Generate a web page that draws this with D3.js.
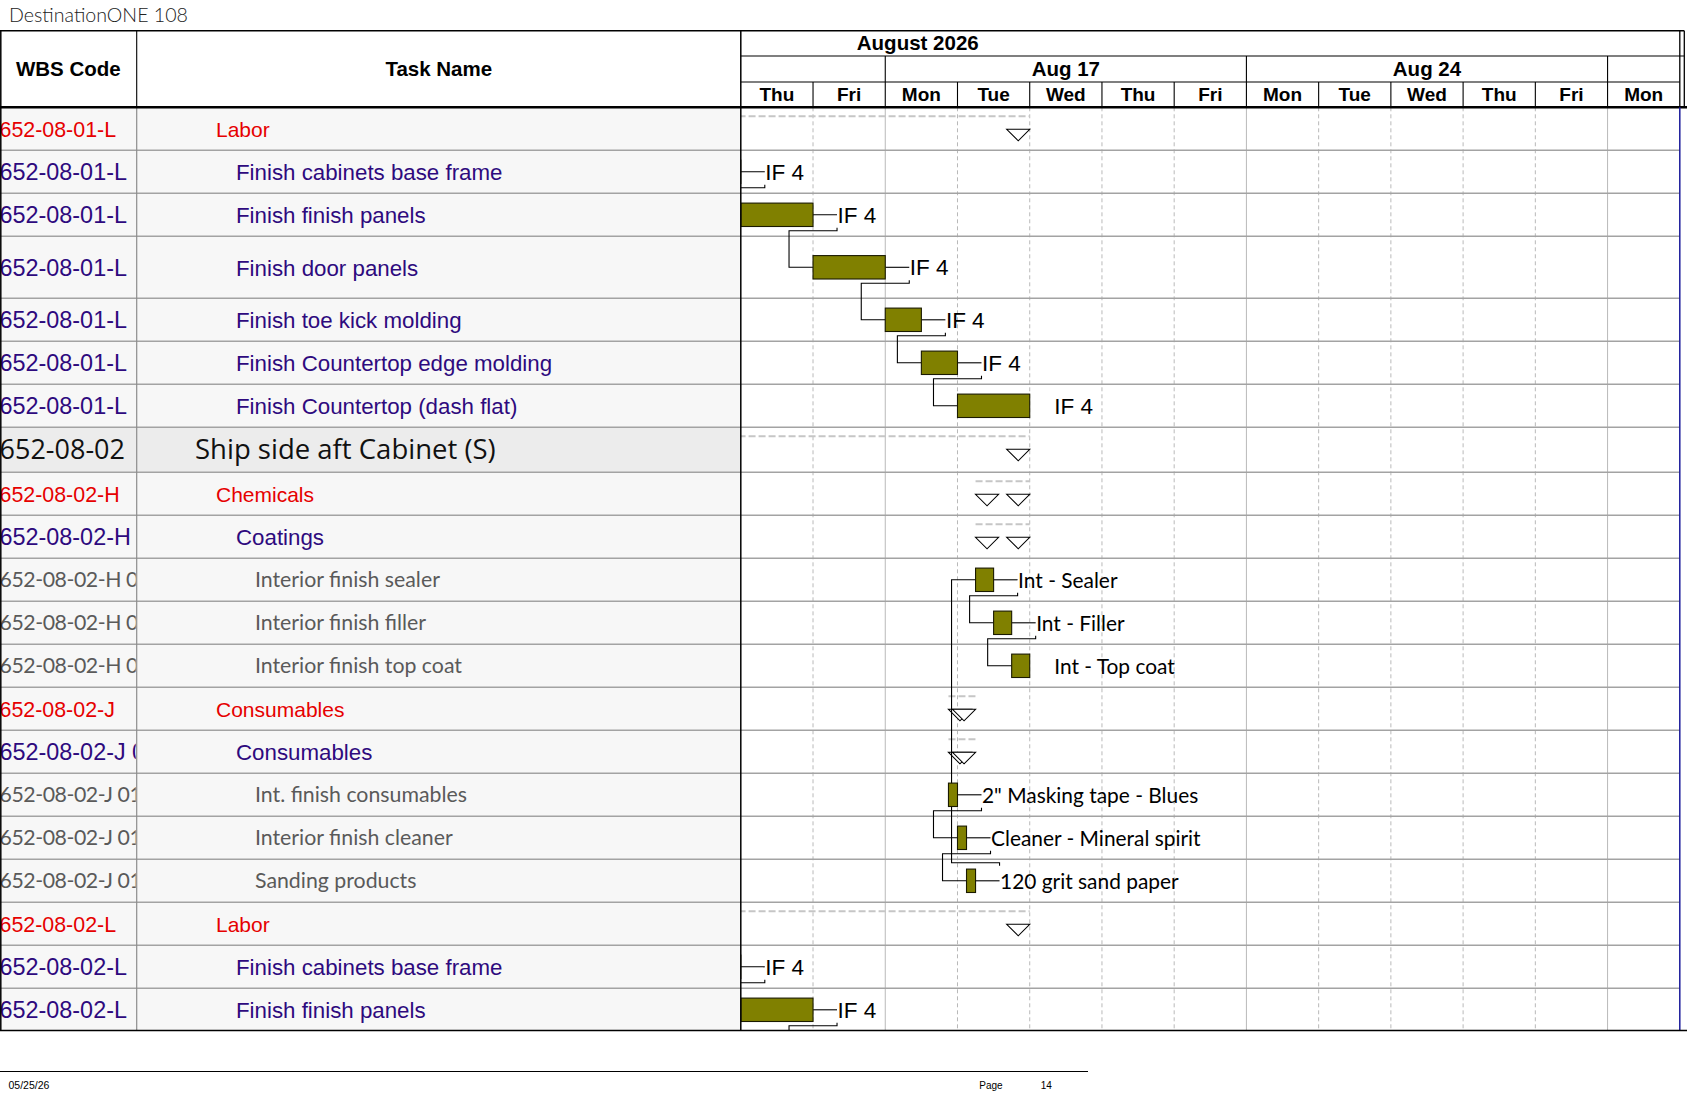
<!DOCTYPE html>
<html><head><meta charset="utf-8">
<script src="https://cdn.jsdelivr.net/npm/d3@7"></script>
<style>body{margin:0;background:#fff;overflow:hidden}</style>
</head><body><svg id="c" width="1687" height="1097"></svg>
<script>
// ---------------- DATA ----------------
const chartTitle = "DestinationONE 108";
const columnHeaders = ["WBS Code", "Task Name"];
const monthLabel = "August 2026";
const dayLabels = ["Thu","Fri","Mon","Tue","Wed","Thu","Fri","Mon","Tue","Wed","Thu","Fri","Mon"];
const weekStartDays = [0, 2, 7, 12];
const weekLabels = ["", "Aug 17", "Aug 24", ""];

const wbsCodes = [
  "652-08-01-L","652-08-01-L","652-08-01-L","652-08-01-L","652-08-01-L","652-08-01-L","652-08-01-L",
  "652-08-02",
  "652-08-02-H","652-08-02-H","652-08-02-H 01","652-08-02-H 02","652-08-02-H 03",
  "652-08-02-J","652-08-02-J 01","652-08-02-J 01 01","652-08-02-J 01 02","652-08-02-J 01 03",
  "652-08-02-L","652-08-02-L","652-08-02-L","652-08-02-L"
];
const taskNames = [
  "Labor","Finish cabinets base frame","Finish finish panels","Finish door panels","Finish toe kick molding",
  "Finish Countertop edge molding","Finish Countertop (dash flat)",
  "Ship side aft Cabinet (S)",
  "Chemicals","Coatings","Interior finish sealer","Interior finish filler","Interior finish top coat",
  "Consumables","Consumables","Int. finish consumables","Interior finish cleaner","Sanding products",
  "Labor","Finish cabinets base frame","Finish finish panels","Finish door panels"
];
const outlineLevels = [3,4,4,4,4,4,4, 2, 3,4,5,5,5, 3,4,5,5,5, 3,4,4,4];
// working days from Thu Aug 13 2026 (weekends skipped)
const startDays = [-1,-1,0,1,2,2.5,3, -1, 3.25,3.25,3.25,3.5,3.75, 2.875,2.875,2.875,3,3.125, -1,-1,0,1];
const endDays   = [ 4, 0,1,2,2.5,3,4,  4, 4,4,3.5,3.75,4,       3.25,3.25,3,3.125,3.25,      4, 0,1,2];
const barLabels = ["","IF 4","IF 4","IF 4","IF 4","IF 4","IF 4", "", "","","Int - Sealer","Int - Filler","Int - Top coat",
  "","","2\" Masking tape - Blues","Cleaner - Mineral spirit","120 grit sand paper", "","IF 4","IF 4","IF 4"];
const links = [[1,2],[2,3],[3,4],[4,5],[5,6],[10,11],[11,12],[15,16],[16,17],[17,10],[19,20],[20,21]];
const footerDate = "05/25/26";
const footerPage = ["Page", "14"];

// ---------------- LAYOUT ----------------
const W = 1687, H = 1097;
const tableTop = 30.7, tier1 = 56, tier2 = 82, headBottom = 107.3, bodyBottom = 1030.5;
const colWbs = 136.7, chartLeft = 740.8, chartRight = 1679.8, outerRight = 1684.3;
const rowHeights = outlineLevels.map((l, i) => i === 3 ? 62 : (l === 2 ? 45 : 43));
const rowTops = [headBottom, ...d3.cumsum(rowHeights).map(v => headBottom + v)].slice(0, rowHeights.length);
const cy = i => rowTops[i] + rowHeights[i] / 2;

const x = d3.scaleLinear().domain([0, dayLabels.length]).range([chartLeft, chartRight]);

const rows = wbsCodes.map((w, i) => ({
  i, wbs: w, name: taskNames[i], level: outlineLevels[i],
  start: startDays[i], end: endDays[i], label: barLabels[i],
  summary: i < outlineLevels.length - 1 && outlineLevels[i + 1] > outlineLevels[i]
}));

const style = {
  2: {color: "#111", font: "'Open Sans', 'Noto Sans', sans-serif", size: 27.5, codeSize: 27, ls: 0, dy: 9.5, indent: 195},
  3: {color: "#e60000", font: "'Liberation Sans', Arial, sans-serif", size: 21, codeSize: 21.4, ls: 0, dy: 8, indent: 216},
  4: {color: "#2e0a7e", font: "'Liberation Sans', Arial, sans-serif", size: 22.3, codeSize: 23.4, ls: 0, dy: 8.5, indent: 236},
  5: {color: "#5a5a5a", font: "Lato, 'Open Sans', sans-serif", size: 21.3, codeSize: 21.3, ls: -0.45, dy: 7.5, indent: 255}
};

const svg = d3.select("#c");
const defs = svg.append("defs");
defs.append("clipPath").attr("id", "clipBody").append("rect").attr("x", 0).attr("y", headBottom).attr("width", W).attr("height", bodyBottom - headBottom);
defs.append("clipPath").attr("id", "clipWbs").append("rect").attr("x", 0).attr("y", headBottom).attr("width", colWbs - 1).attr("height", bodyBottom - headBottom);
defs.append("clipPath").attr("id", "clipName").append("rect").attr("x", colWbs).attr("y", headBottom).attr("width", chartLeft - colWbs).attr("height", bodyBottom - headBottom);
defs.append("clipPath").attr("id", "clipChart").append("rect").attr("x", chartLeft).attr("y", headBottom).attr("width", chartRight - chartLeft).attr("height", bodyBottom - headBottom);

// title
svg.append("text").attr("x", 9).attr("y", 21.7).text(chartTitle)
  .attr("font-family", "Lato, 'Open Sans', sans-serif").attr("font-weight", 300).attr("font-size", 19)
  .attr("textLength", 179).attr("lengthAdjust", "spacingAndGlyphs").attr("fill", "#222");

const body = svg.append("g").attr("clip-path", "url(#clipBody)");
// row backgrounds
body.selectAll("rect.tb").data(rows).join("rect")
  .attr("x", 0).attr("y", d => rowTops[d.i]).attr("width", chartLeft).attr("height", d => rowHeights[d.i])
  .attr("fill", d => d.level === 2 ? "#ececec" : "#f7f7f7");

// vertical grid in chart
const dayIdx = d3.range(1, dayLabels.length);
body.append("g").selectAll("line").data(dayIdx).join("line")
  .attr("x1", d => x(d)).attr("x2", d => x(d)).attr("y1", headBottom).attr("y2", bodyBottom)
  .attr("stroke", "#b9b9b9").attr("stroke-width", 1)
  .attr("stroke-dasharray", d => weekStartDays.includes(d) ? null : "4,3");

// horizontal row lines
body.append("g").selectAll("line").data(rows).join("line")
  .attr("x1", 0).attr("x2", chartRight).attr("y1", d => rowTops[d.i] + rowHeights[d.i]).attr("y2", d => rowTops[d.i] + rowHeights[d.i])
  .attr("stroke", "#a3a3a3").attr("stroke-width", 1.4);

// body column divider
body.append("line").attr("x1", colWbs).attr("x2", colWbs).attr("y1", headBottom).attr("y2", bodyBottom).attr("stroke", "#8c8c8c").attr("stroke-width", 1.2);

// table text
svg.append("g").attr("clip-path", "url(#clipWbs)").selectAll("text").data(rows).join("text")
  .attr("x", -0.5).attr("y", d => cy(d.i) + style[d.level].dy).text(d => d.wbs)
  .attr("font-family", d => style[d.level].font).attr("font-size", d => style[d.level].codeSize)
  .attr("letter-spacing", d => style[d.level].ls)
  .attr("fill", d => style[d.level].color);
svg.append("g").attr("clip-path", "url(#clipName)").selectAll("text").data(rows).join("text")
  .attr("x", d => style[d.level].indent).attr("y", d => cy(d.i) + style[d.level].dy).text(d => d.name)
  .attr("font-family", d => style[d.level].font).attr("font-size", d => style[d.level].size)
  .attr("fill", d => style[d.level].color);

// chart marks
const chart = svg.append("g").attr("clip-path", "url(#clipChart)");
const summaries = rows.filter(d => d.summary);
chart.selectAll("line.sum").data(summaries).join("line")
  .attr("x1", d => x(d.start)).attr("x2", d => x(d.end)).attr("y1", d => rowTops[d.i] + 9).attr("y2", d => rowTops[d.i] + 9)
  .attr("stroke", "#c6c6c6").attr("stroke-width", 2).attr("stroke-dasharray", "7,3");
const tw = 23, th = 11.5;
const tris = [];
summaries.forEach(d => {
  const t = rowTops[d.i] + 22;
  const xs = x(d.start), xe = x(d.end);
  tris.push([[xs, t], [xs + tw, t], [xs + tw / 2, t + th]]);
  tris.push([[xe - tw, t], [xe, t], [xe - tw / 2, t + th]]);
});
chart.selectAll("path.tri").data(tris).join("path")
  .attr("d", d => "M" + d.join("L") + "Z").attr("fill", "#fff").attr("stroke", "#000").attr("stroke-width", 1.1);

// links
const gap = 24;
const linkG = chart.append("g").attr("fill", "none").attr("stroke", "#000").attr("stroke-width", 1.1);
links.forEach(([p, s]) => {
  const xe = x(endDays[p]), lx = xe + gap, cp = cy(p), cs = cy(s), xs = x(startDays[s]);
  const down = s > p;
  const yl = down ? cp + 16 : cp - 18, yt = down ? cp + 13 : cp - 15;
  linkG.append("path").attr("d", `M${xe},${cp}H${lx}`);
  linkG.append("path").attr("d", `M${lx},${yt}V${yl}H${xs - gap}V${cs}H${xs}`);
});

// bars
const tasks = rows.filter(d => !d.summary);
chart.selectAll("rect.bar").data(tasks).join("rect")
  .attr("x", d => x(d.start)).attr("width", d => x(d.end) - x(d.start))
  .attr("y", d => cy(d.i) - 11.7).attr("height", 23.4)
  .attr("fill", "#808000").attr("stroke", "#1a1a00").attr("stroke-width", 1.1);

// bar labels
chart.selectAll("text.lbl").data(tasks.filter(d => d.label)).join("text")
  .attr("x", d => x(d.end) + gap + 0.5).attr("y", d => cy(d.i) + 8).text(d => d.label)
  .attr("font-family", d => d.level === 5 ? "Lato, 'Open Sans', sans-serif" : "'Liberation Sans', Arial, sans-serif")
  .attr("font-size", d => d.level === 5 ? 20.9 : 22.5).attr("fill", "#000");

// ---------------- HEADER ----------------
const hdr = svg.append("g");
const bold = "'Liberation Sans', Arial, sans-serif";
hdr.append("text").attr("x", colWbs / 2).attr("y", 76).attr("text-anchor", "middle").text(columnHeaders[0])
  .attr("font-family", bold).attr("font-weight", "bold").attr("font-size", 20.5);
hdr.append("text").attr("x", (colWbs + chartLeft) / 2).attr("y", 76).attr("text-anchor", "middle").text(columnHeaders[1])
  .attr("font-family", bold).attr("font-weight", "bold").attr("font-size", 20.5);
hdr.append("text").attr("x", x(2.45)).attr("y", 50).attr("text-anchor", "middle").text(monthLabel)
  .attr("font-family", bold).attr("font-weight", "bold").attr("font-size", 20.5);
const weeks = weekStartDays.map((s, k) => ({s, e: k < weekStartDays.length - 1 ? weekStartDays[k + 1] : dayLabels.length, label: weekLabels[k]}));
hdr.selectAll("text.wk").data(weeks).join("text")
  .attr("x", d => (x(d.s) + x(d.e)) / 2).attr("y", 75.5).attr("text-anchor", "middle").text(d => d.label)
  .attr("font-family", bold).attr("font-weight", "bold").attr("font-size", 20.5);
hdr.selectAll("line.wk").data(weekStartDays.slice(1)).join("line")
  .attr("x1", d => x(d)).attr("x2", d => x(d)).attr("y1", tier1).attr("y2", tier2).attr("stroke", "#000").attr("stroke-width", 1.1);
hdr.selectAll("text.day").data(dayLabels).join("text")
  .attr("x", (d, k) => (x(k) + x(k + 1)) / 2).attr("y", 100.5).attr("text-anchor", "middle").text(d => d)
  .attr("font-family", bold).attr("font-weight", "bold").attr("font-size", 19);
hdr.selectAll("line.day").data(dayIdx).join("line")
  .attr("x1", d => x(d)).attr("x2", d => x(d)).attr("y1", tier2).attr("y2", headBottom).attr("stroke", "#000").attr("stroke-width", 1.1);
// header horizontal lines
[[chartLeft, outerRight, tier1], [chartLeft, chartRight, tier2]].forEach(([a, b, yy]) =>
  hdr.append("line").attr("x1", a).attr("x2", b).attr("y1", yy).attr("y2", yy).attr("stroke", "#000").attr("stroke-width", 1.1));
hdr.append("line").attr("x1", 0).attr("x2", outerRight).attr("y1", tableTop).attr("y2", tableTop).attr("stroke", "#000").attr("stroke-width", 1.5);
hdr.append("line").attr("x1", 0).attr("x2", W).attr("y1", headBottom).attr("y2", headBottom).attr("stroke", "#000").attr("stroke-width", 2.6);
hdr.append("line").attr("x1", colWbs).attr("x2", colWbs).attr("y1", tableTop).attr("y2", headBottom).attr("stroke", "#000").attr("stroke-width", 1.1);
hdr.append("line").attr("x1", outerRight).attr("x2", outerRight).attr("y1", tableTop).attr("y2", headBottom).attr("stroke", "#000").attr("stroke-width", 1.3);
hdr.append("line").attr("x1", chartRight).attr("x2", chartRight).attr("y1", tableTop).attr("y2", headBottom).attr("stroke", "#000").attr("stroke-width", 1.3);
// outer borders
svg.append("line").attr("x1", chartRight).attr("x2", chartRight).attr("y1", headBottom).attr("y2", bodyBottom).attr("stroke", "#1a1a9a").attr("stroke-width", 1.5);
svg.append("line").attr("x1", chartLeft).attr("x2", chartLeft).attr("y1", tableTop).attr("y2", bodyBottom).attr("stroke", "#000").attr("stroke-width", 1.5);
svg.append("line").attr("x1", 0.8).attr("x2", 0.8).attr("y1", tableTop).attr("y2", bodyBottom).attr("stroke", "#000").attr("stroke-width", 1.5);
svg.append("line").attr("x1", 0).attr("x2", W).attr("y1", bodyBottom).attr("y2", bodyBottom).attr("stroke", "#000").attr("stroke-width", 1.6);

// ---------------- FOOTER ----------------
svg.append("line").attr("x1", 0).attr("x2", 1088).attr("y1", 1071.5).attr("y2", 1071.5).attr("stroke", "#000").attr("stroke-width", 1.2);
svg.append("text").attr("x", 8.5).attr("y", 1088.5).text(footerDate).attr("font-family", bold).attr("font-size", 10.5);
svg.append("text").attr("x", 979.3).attr("y", 1088.5).text(footerPage[0]).attr("font-family", bold).attr("font-size", 10);
svg.append("text").attr("x", 1040.7).attr("y", 1088.5).text(footerPage[1]).attr("font-family", bold).attr("font-size", 10);
</script></body></html>
